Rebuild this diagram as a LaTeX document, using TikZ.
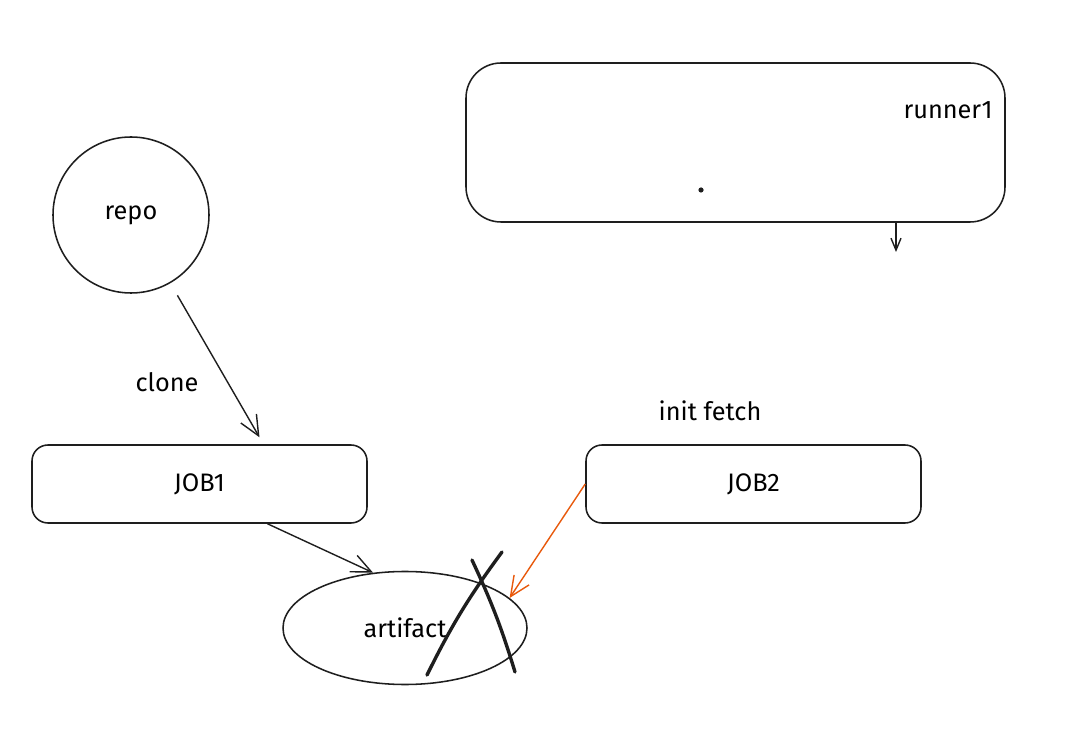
\documentclass[tikz,border=0pt]{standalone}
\usepackage{fontspec}
\setmainfont{Fira Sans}
\usepackage{tikz}
\usepackage{xcolor}
\usetikzlibrary{arrows.meta, positioning, calc, shapes.geometric}
\definecolor{inkgray}{HTML}{1E1E1E}
\definecolor{fetchred}{HTML}{E8590C}

\begin{document}
\begin{tikzpicture}[scale=1.0,
    font=\fontsize{18}{21}\selectfont,
    sketch/.style={draw=inkgray, line width=1.1pt},
    job/.style={sketch, rounded corners=0.4cm, minimum width=8.375cm, minimum height=1.95cm, inner sep=0pt},
    arr/.style={inkgray, line width=1pt, -{Straight Barb[length=0.5cm, width=0.45cm]}},
    cross/.style={inkgray, line width=2.4pt, line cap=round}]
    \useasboundingbox (0,0) rectangle (26.9,18.525);
    \node[sketch, circle, minimum size=3.9cm, inner sep=0pt] (repo) at (3.275,13.15) {repo};
    \node[sketch, rounded corners=0.875cm, minimum width=13.475cm, minimum height=3.975cm] (runner) at (18.3875,14.9625) {};
    \node (runnerlbl) at (23.7,15.775) {runner1};
    \fill[inkgray] (17.525,13.775) circle (0.065cm);
    \coordinate (runnerout) at (22.4,12.225);
    \node[job] (job1) at (4.9875,6.425) {JOB1};
    \node[job] (job2) at (18.8375,6.425) {JOB2};
    \node (clone) at (4.175,8.975) {clone};
    \node (fetch) at (17.75,8.25) {init fetch};
    \node[sketch, ellipse, minimum width=6.1cm, minimum height=2.825cm, inner sep=0pt] (artifact) at (10.125,2.825) {artifact};
    \draw[arr, -{Straight Barb[length=0.3cm, width=0.25cm]}] (runner.south -| runnerout) -- (runnerout);
    \draw[arr, shorten <=0.35cm, shorten >=0.2cm] (repo.-60) -- ($(job1.north)+(1.6,0)$);
    \draw[arr] ($(job1.south)+(1.7,0)$) -- (artifact.120);
    \draw[arr, fetchred] (job2.west) -- (artifact.16);
    % strike through
    \draw[cross] (10.675,1.65) to[bend left=5] (12.55,4.725);
    \draw[cross] (11.8,4.525) to[bend left=4] (12.875,1.725);
\end{tikzpicture}
\end{document}
